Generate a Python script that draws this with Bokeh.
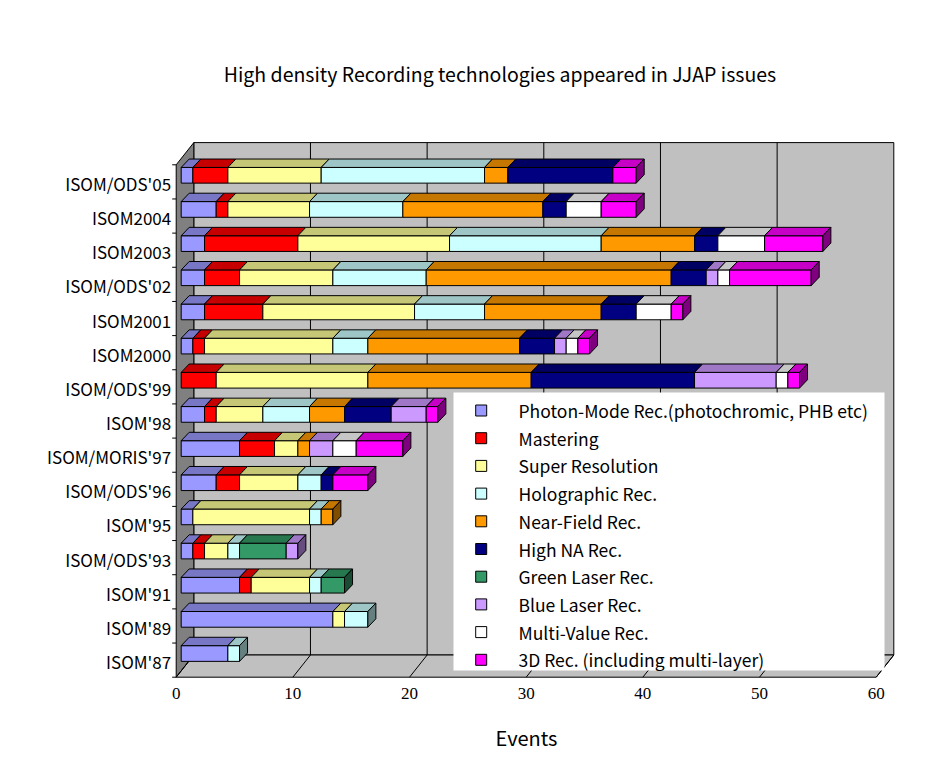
from bokeh.plotting import figure
from bokeh.models import Range1d
from bokeh.core.properties import value
from bokeh.embed import file_html
from bokeh.resources import INLINE

# ---------------- data (bottom row first) ----------------
categories = ["ISOM'87", "ISOM'89", "ISOM'91", "ISOM/ODS'93", "ISOM'95", "ISOM/ODS'96",
              "ISOM/MORIS'97", "ISOM'98", "ISOM/ODS'99", "ISOM2000", "ISOM2001",
              "ISOM/ODS'02", "ISOM2003", "ISOM2004", "ISOM/ODS'05"]
photon_mode = [4, 13, 5, 1, 1, 3, 5, 2, 0, 1, 2, 2, 2, 3, 1]
mastering = [0, 0, 1, 1, 0, 2, 3, 1, 3, 1, 5, 3, 8, 1, 3]
super_resolution = [0, 1, 5, 2, 10, 5, 2, 4, 13, 11, 13, 8, 13, 7, 8]
holographic = [1, 2, 1, 1, 1, 2, 0, 4, 0, 3, 6, 8, 13, 8, 14]
near_field = [0, 0, 0, 0, 1, 0, 1, 3, 14, 13, 10, 21, 8, 12, 2]
high_na = [0, 0, 0, 0, 0, 1, 0, 4, 14, 3, 3, 3, 2, 2, 9]
green_laser = [0, 0, 2, 4, 0, 0, 0, 0, 0, 0, 0, 0, 0, 0, 0]
blue_laser = [0, 0, 0, 1, 0, 0, 2, 3, 7, 1, 0, 1, 0, 0, 0]
multi_value = [0, 0, 0, 0, 0, 0, 2, 0, 1, 1, 3, 1, 4, 3, 0]
three_d = [0, 0, 0, 0, 0, 3, 4, 1, 1, 1, 1, 7, 5, 3, 2]

series_names = ["Photon-Mode Rec.(photochromic, PHB etc)", "Mastering", "Super Resolution",
                "Holographic Rec.", "Near-Field Rec.", "High NA Rec.", "Green Laser Rec.",
                "Blue Laser Rec.", "Multi-Value Rec.", "3D Rec. (including multi-layer)"]
series_values = [photon_mode, mastering, super_resolution, holographic, near_field,
                 high_na, green_laser, blue_laser, multi_value, three_d]
series_colors = ["#9999FF", "#FF0000", "#FFFF99", "#CCFFFF", "#FF9900",
                 "#000080", "#339966", "#CC99FF", "#FFFFFF", "#FF00FF"]

x_ticks = [0, 10, 20, 30, 40, 50, 60]
x_tick_labels = ["0", "10", "20", "30", "40", "50", "60"]
title_text = "High density Recording technologies appeared in JJAP issues"
x_title = "Events"

# ---------------- layout / style ----------------
W, H = 915, 752
X_MAX = 60
NC = len(categories)
PX = 700.0 / X_MAX          # px per event
RY = 512.4 / NC             # px per category row
OX, OY = 175.7, 676.7       # canvas px of the front-plane origin

def fx(px):
    return (px - OX) / PX

def fy(py):
    return (OY - py) / RY

WDX, WDY = 17.6 / PX, 22.2 / RY      # wall depth
BOX, BOY = 5.0 / PX, 6.6 / RY        # bar front-face offset
BDX, BDY = 8.0 / PX, 8.4 / RY        # bar depth
BH = 15.7 / RY                       # bar thickness

FONT = value("Noto Sans CJK JP")


def shade(hexc, f):
    r, g, b = int(hexc[1:3], 16), int(hexc[3:5], 16), int(hexc[5:7], 16)
    return "#%02x%02x%02x" % (int(r * f), int(g * f), int(b * f))


p = figure(width=W, height=H, x_range=Range1d(fx(0), fx(W)), y_range=Range1d(fy(H), fy(0)),
           x_axis_type=None, y_axis_type=None, toolbar_location=None,
           output_backend="svg", min_border=0, outline_line_color=None)
p.background_fill_color = "white"
p.border_fill_color = "white"

# walls
p.quad(left=[WDX], right=[X_MAX + WDX], bottom=[WDY], top=[NC + WDY],
       fill_color="#C0C0C0", line_color="black", line_width=1)
p.segment(x0=[t + WDX for t in x_ticks[1:-1]], y0=[WDY] * 5,
          x1=[t + WDX for t in x_ticks[1:-1]], y1=[NC + WDY] * 5,
          line_color="black", line_width=1)
p.patch([0, WDX, WDX, 0], [0, WDY, NC + WDY, NC], fill_color="#808080",
        line_color="black", line_width=1)
p.patch([0, X_MAX, X_MAX + WDX, WDX], [0, 0, WDY, WDY], fill_color="#C0C0C0",
        line_color="black", line_width=1)
p.segment(x0=x_ticks, y0=[0] * len(x_ticks), x1=[t + WDX for t in x_ticks],
          y1=[WDY] * len(x_ticks), line_color="black", line_width=1)
# category ticks on the left wall edge
p.segment(x0=[0] * (NC + 1), y0=list(range(NC + 1)), x1=[-4 / PX] * (NC + 1),
          y1=list(range(NC + 1)), line_color="black", line_width=1)

# stacked 3D bars
cum = [0] * NC
for name, vals, col in zip(series_names, series_values, series_colors):
    L, R, B, T = [], [], [], []
    txs, tys = [], []
    for i, v in enumerate(vals):
        if v <= 0:
            continue
        l, r = cum[i], cum[i] + v
        c = i + 0.5 + BOY
        b, t = c - BH / 2, c + BH / 2
        L.append(BOX + l); R.append(BOX + r); B.append(b); T.append(t)
        txs.append([BOX + l, BOX + r, BOX + r + BDX, BOX + l + BDX])
        tys.append([t, t, t + BDY, t + BDY])
        cum[i] = r
    if L:
        p.quad(left=L, right=R, bottom=B, top=T, fill_color=col,
               line_color="black", line_width=1)
        p.patches(txs, tys, fill_color=shade(col, 0.78), line_color="black", line_width=1)

# right end faces
last_col = []
for i in range(NC):
    lc = None
    for vals, col in zip(series_values, series_colors):
        if vals[i] > 0:
            lc = col
    last_col.append(lc)
sxs, sys_, scs = [], [], []
for i in range(NC):
    r = BOX + cum[i]
    c = i + 0.5 + BOY
    b, t = c - BH / 2, c + BH / 2
    sxs.append([r, r + BDX, r + BDX, r])
    sys_.append([b, b + BDY, t + BDY, t])
    scs.append(shade(last_col[i], 0.5))
p.patches(sxs, sys_, fill_color=scs, line_color="black", line_width=1)

# legend box (drawn over the chart)
p.quad(left=[fx(453)], right=[fx(884)], top=[fy(392)], bottom=[fy(670)],
       fill_color="white", line_color=None)
n = len(series_names)
ly = [fy(410 + k * 27.7) for k in range(n)]
p.rect(x=[fx(480.7)] * n, y=ly, width=11, height=11, width_units="screen",
       height_units="screen", fill_color=series_colors, line_color="black", line_width=1)
p.text(x=[fx(518)] * n, y=ly, text=series_names, text_font=FONT,
       text_font_size="17.5px", text_baseline="middle", text_align="left", text_color="black")

# category labels
p.text(x=[fx(170.7)] * NC, y=[i + 0.5 - 1.5 / RY for i in range(NC)], text=categories,
       text_font=FONT, text_font_size="17px", text_baseline="middle",
       text_align="right", text_color="black")

# x tick labels
p.text(x=x_ticks, y=[fy(693)] * len(x_ticks), text=x_tick_labels,
       text_font=value("Liberation Serif"), text_font_size="17px",
       text_baseline="middle", text_align="center", text_color="black")

# titles
p.text(x=[fx(499.5)], y=[fy(73)], text=[title_text], text_font=FONT,
       text_font_size="19.5px", text_baseline="middle", text_align="center", text_color="black")
p.text(x=[fx(526)], y=[fy(737)], text=[x_title], text_font=FONT,
       text_font_size="20px", text_baseline="middle", text_align="center", text_color="black")

open("out.html", "w").write(file_html(p, INLINE))
